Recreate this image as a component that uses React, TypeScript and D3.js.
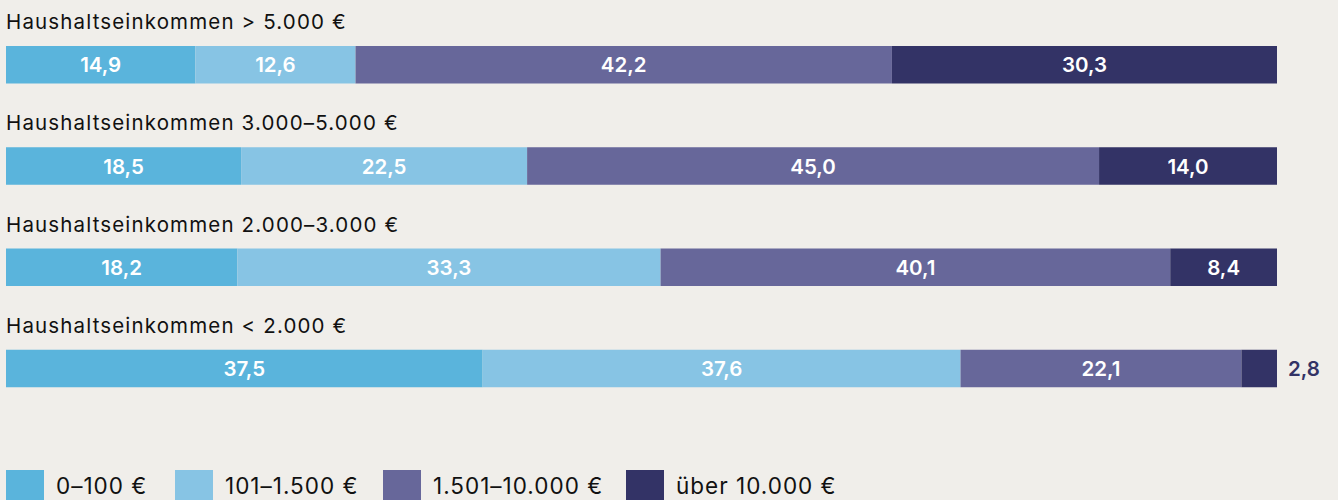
import React from "react";
import * as d3 from "d3";

const categories = [
  "Haushaltseinkommen > 5.000 €",
  "Haushaltseinkommen 3.000–5.000 €",
  "Haushaltseinkommen 2.000–3.000 €",
  "Haushaltseinkommen < 2.000 €",
];
const seriesNames = ["0–100 €", "101–1.500 €", "1.501–10.000 €", "über 10.000 €"];
const s0 = [14.9, 18.5, 18.2, 37.5];
const s1 = [12.6, 22.5, 33.3, 37.6];
const s2 = [42.2, 45.0, 40.1, 22.1];
const s3 = [30.3, 14.0, 8.4, 2.8];
const colors = ["#5ab4dc", "#87c4e4", "#67679a", "#333366"];

const W = 1338;
const H = 500;
const FONT = "Inter, 'Noto Sans', sans-serif";

export default function App() {
  const series = [s0, s1, s2, s3];
  const x = d3.scaleLinear().domain([0, 100]).range([6, 1277]);
  const y = d3.scaleBand().domain(categories).range([46, 451]).paddingInner(0.0).paddingOuter(0);
  const barH = 37.5;
  const fmt = (v: number) => v.toFixed(1).replace(".", ",");
  const legendX = [6, 175, 383, 626];

  return (
    <svg width={W} height={H} style={{ position: "absolute", left: 0, top: 0, background: "#f0eeea" }} fontFamily={FONT}>
      <rect x={0} y={0} width={W} height={H} fill="#f0eeea" />
      {categories.map((cat, i) => {
        const y0 = y(cat)!;
        let cum = 0;
        return (
          <g key={cat}>
            <text x={6} y={y0 - 17} fontSize={20.5} fill="#111" letterSpacing={1.15}>{cat}</text>
            {series.map((s, j) => {
              const v = s[i];
              const xa = x(cum);
              const xb = x(cum + v);
              cum += v;
              const small = v < 5;
              return (
                <g key={j}>
                  <rect x={xa} y={y0} width={xb - xa} height={barH} fill={colors[j]} />
                  {small ? (
                    <text x={x(100) + 11} y={y0 + barH / 2 + 7.5} fontSize={20.5} fontWeight={600} fill="#333366">{fmt(v)}</text>
                  ) : (
                    <text x={(xa + xb) / 2} y={y0 + barH / 2 + 7.5} fontSize={20.5} fontWeight={600} fill="#fff" textAnchor="middle">{fmt(v)}</text>
                  )}
                </g>
              );
            })}
          </g>
        );
      })}
      {seriesNames.map((n, j) => (
        <g key={n}>
          <rect x={legendX[j]} y={470} width={38} height={32} fill={colors[j]} />
          <text x={legendX[j] + 50} y={494} fontSize={22.5} fill="#111" letterSpacing={1}>{n}</text>
        </g>
      ))}
    </svg>
  );
}
